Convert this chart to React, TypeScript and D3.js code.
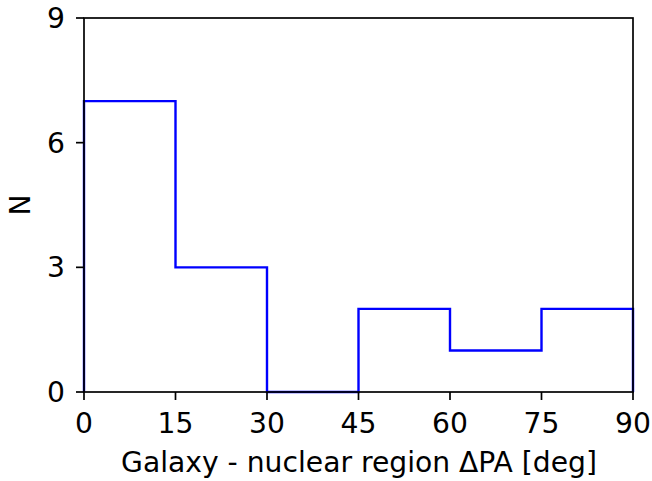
import React from "react";
import * as d3 from "d3";

const binEdges = [0, 15, 30, 45, 60, 75, 90];
const counts = [7, 3, 0, 2, 1, 2];
const xTicks = [0, 15, 30, 45, 60, 75, 90];
const yTicks = [0, 3, 6, 9];

const W = 652, H = 481;
const M = { left: 84, right: 633, top: 18, bottom: 392 };
const FONT = "DejaVu Sans, sans-serif";
const FS = 28.2;

export default function App() {
  const x = d3.scaleLinear().domain([0, 90]).range([M.left, M.right]);
  const y = d3.scaleLinear().domain([0, 9]).range([M.bottom, M.top]);

  const pts: [number, number][] = [[binEdges[0], 0]];
  counts.forEach((c, i) => {
    pts.push([binEdges[i], c]);
    pts.push([binEdges[i + 1], c]);
  });
  pts.push([binEdges[binEdges.length - 1], 0]);
  const line = d3.line<[number, number]>().x(d => x(d[0])).y(d => y(d[1]));

  return (
    <svg width={W} height={H} style={{ position: "absolute", left: 0, top: 0 }}>
      <rect width={W} height={H} fill="white" />
      <path d={line(pts) || ""} fill="none" stroke="#0000ff" strokeWidth={2.4} strokeLinejoin="miter" />
      <rect x={M.left} y={M.top} width={M.right - M.left} height={M.bottom - M.top} fill="none" stroke="black" strokeWidth={1.7} />
      {xTicks.map(t => (
        <g key={"x" + t}>
          <line x1={x(t)} x2={x(t)} y1={M.bottom} y2={M.bottom + 8} stroke="black" strokeWidth={1.7} />
          <text x={x(t)} y={433} textAnchor="middle" fontFamily={FONT} fontSize={FS}>{t}</text>
        </g>
      ))}
      {yTicks.map(t => (
        <g key={"y" + t}>
          <line x1={M.left - 8} x2={M.left} y1={y(t)} y2={y(t)} stroke="black" strokeWidth={1.7} />
          <text x={M.left - 19} y={y(t)} dy="0.36em" textAnchor="end" fontFamily={FONT} fontSize={FS}>{t}</text>
        </g>
      ))}
      <text x={(M.left + M.right) / 2 + 0.5} y={472} textAnchor="middle" fontFamily={FONT} fontSize={FS}>Galaxy - nuclear region ΔPA [deg]</text>
      <text transform={`translate(30, ${(M.top + M.bottom) / 2}) rotate(-90)`} textAnchor="middle" fontFamily={FONT} fontSize={FS}>N</text>
    </svg>
  );
}
